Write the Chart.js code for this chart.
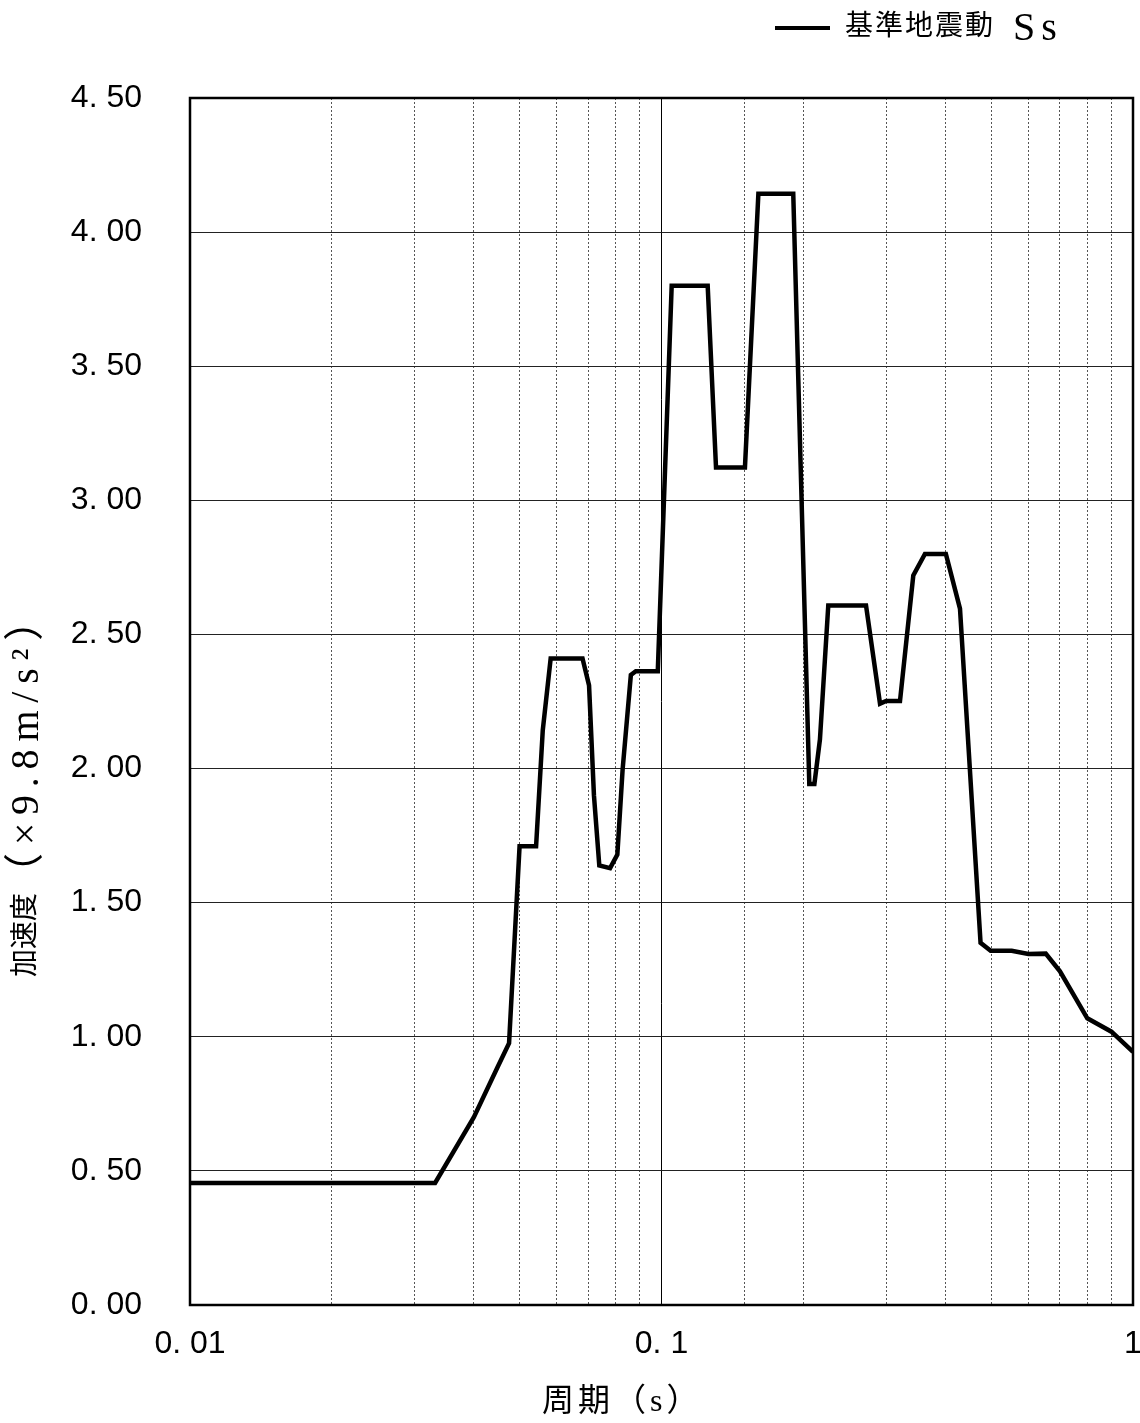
<!DOCTYPE html>
<html><head><meta charset="utf-8">
<script src="https://cdn.jsdelivr.net/npm/chart.js@4.4.1/dist/chart.umd.min.js"></script>
<style>html,body{margin:0;padding:0;background:#fff}#wrap{width:1140px;height:1423px}</style>
</head><body><div id="wrap"><canvas id="c" width="1140" height="1423"></canvas></div>
<script>
// ---- data ----
const periods = [0.01, 0.0331, 0.040, 0.045, 0.0475, 0.050, 0.0542, 0.056, 0.0582, 0.068, 0.0702, 0.0719, 0.0738, 0.0778, 0.0806, 0.0827, 0.0861, 0.0882, 0.0982, 0.1051, 0.1253, 0.1305, 0.1503, 0.1605, 0.1903, 0.2058, 0.211, 0.2168, 0.2258, 0.2715, 0.2907, 0.2996, 0.3205, 0.342, 0.362, 0.401, 0.4296, 0.475, 0.499, 0.553, 0.60, 0.653, 0.70, 0.80, 0.90, 1.0];
const accel = [0.455, 0.455, 0.70, 0.89, 0.976, 1.71, 1.71, 2.143, 2.41, 2.41, 2.31, 1.90, 1.639, 1.629, 1.679, 1.996, 2.349, 2.363, 2.363, 3.80, 3.80, 3.122, 3.122, 4.143, 4.143, 1.942, 1.942, 2.109, 2.608, 2.608, 2.242, 2.252, 2.252, 2.72, 2.80, 2.80, 2.596, 1.35, 1.321, 1.321, 1.309, 1.31, 1.244, 1.069, 1.019, 0.944];
const xMajorValues = [0.01, 0.1, 1];
const xMajorLabels = ['0. 01', '0. 1', '1'];
const yMin = 0, yMax = 4.5, yStep = 0.5;
const seriesLabel = '基準地震動 Ss';
const xTitle = '周期（s）';
const yTitleMain = '加速度';
const yTitleUnit = '（×9.8m/s²）';

const tickFont = {family: '"Liberation Sans", Arial, sans-serif', size: 32};
const serifStack = '"Liberation Serif", "Noto Sans CJK JP", serif';

function isMajor(v) {
  const l = Math.log10(v);
  return Math.abs(l - Math.round(l)) < 1e-6;
}

function setSpacing(ctx, px) {
  if ('letterSpacing' in ctx) ctx.letterSpacing = px + 'px';
}

const decor = {
  id: 'decor',
  beforeDatasetsDraw(chart) {
    const {ctx, chartArea: a} = chart;
    ctx.save();
    ctx.strokeStyle = '#000';
    ctx.lineWidth = 2.5;
    ctx.strokeRect(a.left, a.top, a.right - a.left, a.bottom - a.top);
    ctx.restore();
  },
  afterDraw(chart) {
    const {ctx} = chart;
    ctx.save();
    ctx.fillStyle = '#000';
    ctx.textBaseline = 'middle';
    ctx.textAlign = 'left';
    // x title
    ctx.font = '32px ' + serifStack;
    setSpacing(ctx, 4);
    ctx.fillText(xTitle, 542, 1403);
    // y title (rotated, reads bottom to top)
    ctx.save();
    ctx.translate(27, 977);
    ctx.rotate(-Math.PI / 2);
    ctx.font = '28px ' + serifStack;
    setSpacing(ctx, 0);
    const w1 = ctx.measureText(yTitleMain).width;
    ctx.fillText(yTitleMain, 0, 0);
    ctx.font = '40px ' + serifStack;
    const w2 = ctx.measureText(yTitleUnit).width;
    const n = [...yTitleUnit].length;
    setSpacing(ctx, Math.max(0, (300 - w2) / n));
    ctx.fillText(yTitleUnit, w1, 0);
    ctx.restore();
    // legend
    const ds = chart.data.datasets[0];
    const parts = ds.label.split(' ');
    ctx.font = '28px ' + serifStack;
    setSpacing(ctx, 2);
    const lw = ctx.measureText(parts[0]).width;
    ctx.fillText(parts[0], 845, 28);
    if (parts[1]) {
      ctx.font = '40px ' + serifStack;
      setSpacing(ctx, 6);
      ctx.fillText(parts[1], 845 + lw + 18, 29);
    }
    setSpacing(ctx, 0);
    ctx.strokeStyle = ds.borderColor;
    ctx.lineWidth = 4;
    ctx.beginPath();
    ctx.moveTo(775, 28);
    ctx.lineTo(830, 28);
    ctx.stroke();
    ctx.restore();
  }
};

new Chart(document.getElementById('c'), {
  type: 'line',
  data: {
    datasets: [{
      label: seriesLabel,
      data: periods.map((p, i) => ({x: p, y: accel[i]})),
      borderColor: '#000',
      borderWidth: 4.5,
      pointRadius: 0,
      tension: 0,
      fill: false
    }]
  },
  options: {
    responsive: false,
    animation: false,
    devicePixelRatio: 1,
    layout: {padding: {top: 98, right: 7, left: 0, bottom: 0}},
    plugins: {legend: {display: false}, tooltip: {enabled: false}},
    scales: {
      x: {
        type: 'logarithmic',
        min: 0.01, max: 1,
        afterFit(s) { s.height = 118; s.paddingLeft = 0; s.paddingRight = 0; },
        ticks: {
          autoSkip: false, maxRotation: 0, minRotation: 0, padding: 20,
          color: '#000', font: tickFont,
          callback(v) {
            const k = xMajorValues.findIndex(m => Math.abs(m - v) < 1e-9);
            return k >= 0 ? xMajorLabels[k] : '';
          }
        },
        grid: {
          drawTicks: false,
          lineWidth: 1,
          color: c => (c.tick && isMajor(c.tick.value)) ? '#000' : '#555'
        },
        border: {
          display: false,
          dash: c => (c.tick && isMajor(c.tick.value)) ? [] : [2, 2]
        }
      },
      y: {
        min: yMin, max: yMax,
        afterFit(s) { s.width = 190; s.paddingTop = 0; s.paddingBottom = 0; },
        ticks: {
          stepSize: yStep, padding: 48, color: '#000', font: tickFont,
          callback: v => v.toFixed(2).replace('.', '. ')
        },
        grid: {drawTicks: false, color: '#222', lineWidth: 1},
        border: {display: false}
      }
    }
  },
  plugins: [decor]
});
</script>
</body></html>
